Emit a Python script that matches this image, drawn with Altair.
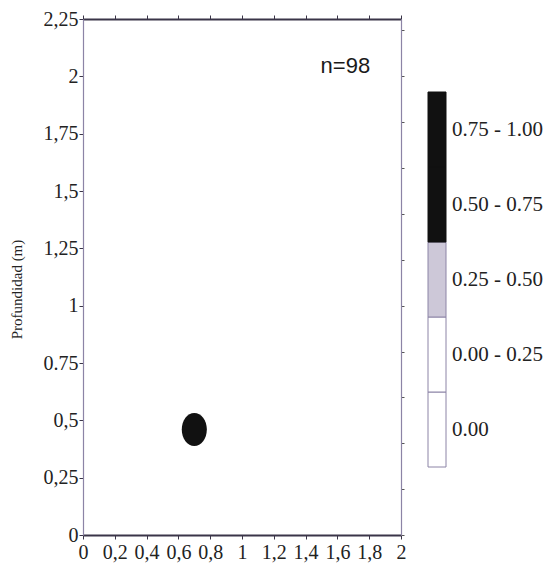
import altair as alt
import pandas as pd

# ---------------- data ----------------
point_x = [0.70]
point_y = [0.46]
point_class = ["0.75 - 1.00"]

legend_labels = ["0.00", "0.00 - 0.25", "0.25 - 0.50", "0.50 - 0.75", "0.75 - 1.00"]
legend_order = [0, 1, 2, 3, 4]

x_ticks = [0, 0.2, 0.4, 0.6, 0.8, 1.0, 1.2, 1.4, 1.6, 1.8, 2.0]
x_tick_labels = ["0", "0,2", "0,4", "0,6", "0,8", "1", "1,2", "1,4", "1,6", "1,8", "2"]
y_ticks = [0, 0.25, 0.5, 0.75, 1.0, 1.25, 1.5, 1.75, 2.0, 2.25]
y_tick_labels = ["0", "0,25", "0,5", "0.75", "1", "1,25", "1,5", "1,75", "2", "2,25"]
right_ticks = [0, 0.2, 0.4, 0.6, 0.8, 1.0, 1.2, 1.4, 1.6, 1.8, 2.0, 2.2]

annotation_text = ["n=98"]
y_title = "Profundidad (m)"

# ---------------- styles ----------------
fill_colors = ["#ffffff", "#ffffff", "#cdc8d8", "#111111", "#111111"]
stroke_colors = ["#8c84a6", "#8c84a6", "#8c84a6", "#111111", "#111111"]
dark_line = "#3a3548"
light_line = "#8c84a6"
serif = "Liberation Serif"

ELLIPSE = "M0,-1A0.76,1,0,1,1,0,1A0.76,1,0,1,1,0,-1Z"

pts = pd.DataFrame({"x": point_x, "y": point_y, "cls": point_class})
leg = pd.DataFrame({"label": legend_labels, "idx": legend_order})
ann = pd.DataFrame({"t": annotation_text})

xs = alt.Scale(domain=[0, 2], nice=False, zero=False)
ys = alt.Scale(domain=[0, 2.25], nice=False, zero=False)
color_scale = alt.Scale(domain=legend_labels, range=fill_colors)
stroke_scale = alt.Scale(domain=legend_labels, range=stroke_colors)

x_lab_expr = "[" + ",".join("'%s'" % s for s in x_tick_labels) + "][round(datum.value*5)]"
y_lab_expr = "[" + ",".join("'%s'" % s for s in y_tick_labels) + "][round(datum.value*4)]"

bottom_axis = alt.Axis(orient="bottom", values=x_ticks, labelExpr=x_lab_expr, tickSize=4,
                       tickColor=dark_line, tickWidth=1, domainColor=dark_line, domainWidth=2,
                       labelFont=serif, labelFontSize=20, labelColor="#222222", labelPadding=3,
                       grid=False, title=None, labelFlush=False, labelOverlap=False)
top_axis = alt.Axis(orient="top", values=x_ticks, labels=False, tickSize=4, tickColor=dark_line,
                    tickWidth=1, domainColor=dark_line, domainWidth=2, grid=False, title=None)
left_axis = alt.Axis(orient="left", values=y_ticks, labelExpr=y_lab_expr, tickSize=4,
                     tickColor=dark_line, tickWidth=1, domainColor=light_line, domainWidth=1.2,
                     labelFont=serif, labelFontSize=20, labelColor="#222222", labelPadding=1,
                     grid=False, labelFlush=False, labelOverlap=False,
                     title=y_title, titleFont=serif, titleFontSize=15, titleFontWeight="normal",
                     titleColor="#222222", titleAngle=270, titleX=-62, titleY=270,
                     titleAlign="center", titleBaseline="alphabetic")
right_axis = alt.Axis(orient="right", values=right_ticks, labels=False, tickSize=3,
                      tickColor="#555555", tickWidth=1, domainColor=light_line, domainWidth=1.2,
                      grid=False, title=None)

point = alt.Chart(pts).mark_point(shape=ELLIPSE, size=1089, filled=True, opacity=1).encode(
    x=alt.X("x:Q", scale=xs, axis=bottom_axis),
    y=alt.Y("y:Q", scale=ys, axis=left_axis),
    color=alt.Color("cls:N", scale=color_scale, legend=None),
)
frame = alt.Chart(pts).mark_point(opacity=0).encode(
    x=alt.X("x:Q", scale=xs, axis=top_axis),
    y=alt.Y("y:Q", scale=ys, axis=right_axis),
)
label_n = alt.Chart(ann).mark_text(font="Liberation Sans", fontSize=22, color="#1a1a1a",
                                   align="center", baseline="middle").encode(
    x=alt.X(datum=1.65, scale=xs, axis=None),
    y=alt.Y(datum=2.045, scale=ys, axis=None),
    text="t:N",
)
main = alt.layer(point, frame, label_n)

lx = alt.Scale(domain=[0, 1], range=[345, 363])
ly = alt.Scale(domain=[0, 5], range=[448, 73], nice=False, zero=False)

leg_rect = alt.Chart(leg).transform_calculate(y2="datum.idx + 1").mark_rect(strokeWidth=1).encode(
    x=alt.X(datum=0, scale=lx, axis=None),
    x2=alt.X2(datum=1),
    y=alt.Y("idx:Q", scale=ly, axis=None),
    y2="y2:Q",
    color=alt.Color("label:N", scale=color_scale, legend=None),
    stroke=alt.Stroke("label:N", scale=stroke_scale, legend=None),
)
leg_text = alt.Chart(leg).transform_calculate(ym="datum.idx + 0.5").mark_text(
    align="left", baseline="middle", dx=6, font=serif, fontSize=21, color="#222222").encode(
    x=alt.X(datum=1, scale=lx, axis=None),
    y=alt.Y("ym:Q", scale=ly, axis=None),
    text="label:N",
)
legend = alt.layer(leg_rect, leg_text)

chart = alt.layer(main, legend).resolve_scale(x="independent", y="independent").properties(
    width=318, height=516,
    autosize=alt.AutoSizeParams(type="none"),
    padding={"left": 83, "top": 19, "right": 151, "bottom": 42},
    background="white",
).configure_view(stroke=None)

chart.save("out.html", embed_options={"renderer": "svg", "actions": False})
